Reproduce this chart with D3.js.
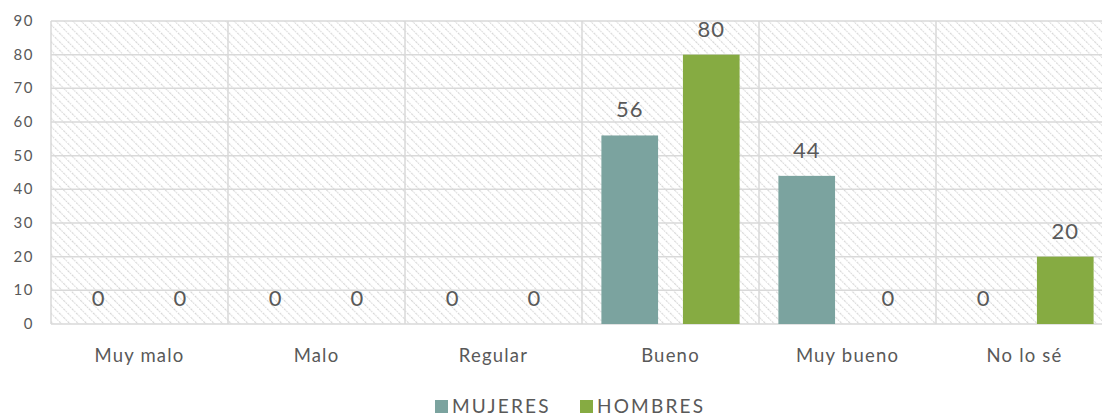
<!DOCTYPE html>
<html lang="es">
<head>
<meta charset="utf-8">
<title>Mujeres / Hombres</title>
<style>
  body { margin: 0; background: #fff; }
  text { font-family: 'Lato', 'Open Sans', sans-serif; font-weight: 400; fill: #595959; }
  .ytick { font-size: 15px; letter-spacing: 1.5px; }
  .xtick { font-size: 18.5px; letter-spacing: 1.2px; }
  .val { font-size: 22px; letter-spacing: 1px; }
  .legend { font-size: 19px; letter-spacing: 2.2px; }
</style>
</head>
<body>
<svg id="chart" width="1102" height="416"></svg>
<script src="https://d3js.org/d3.v7.min.js"></script>
<script>
  const categories = ["Muy malo", "Malo", "Regular", "Bueno", "Muy bueno", "No lo sé"];
  const series = ["MUJERES", "HOMBRES"];
  const mujeres = [0, 0, 0, 56, 44, 0];
  const hombres = [0, 0, 0, 80, 0, 20];
  const yTicks = [0, 10, 20, 30, 40, 50, 60, 70, 80, 90];
  const colors = ["#7ba39f", "#86ab42"];

  const rows = categories.map((c, i) => ({ cat: c, vals: [mujeres[i], hombres[i]] }));

  const plotLeft = 51, plotTop = 21, plotBottom = 324;
  const catStep = 177;
  const plotRight = plotLeft + catStep * categories.length;

  const svg = d3.select("#chart");

  // hatch pattern for plot background
  const defs = svg.append("defs");
  const pat = defs.append("pattern")
    .attr("id", "hatch")
    .attr("patternUnits", "userSpaceOnUse")
    .attr("width", 6).attr("height", 6)
    .attr("patternTransform", "rotate(-45)");
  pat.append("rect").attr("width", 6).attr("height", 6).attr("fill", "#fff");
  pat.append("line")
    .attr("x1", 0).attr("y1", 0).attr("x2", 0).attr("y2", 6)
    .attr("stroke", "#d6d6d6").attr("stroke-width", 2.2)
    .attr("stroke-dasharray", "1.5 1");

  const x0 = d3.scaleBand().domain(categories).range([plotLeft, plotRight]).padding(0);
  const x1 = d3.scaleBand().domain(series).range([0, x0.bandwidth()])
    .paddingInner(0.305).paddingOuter(0.238);
  const y = d3.scaleLinear().domain([0, 90]).range([plotBottom, plotTop]);

  svg.append("rect")
    .attr("x", plotLeft).attr("y", y(90))
    .attr("width", plotRight - plotLeft).attr("height", y(0) - y(90))
    .attr("fill", "url(#hatch)");

  // horizontal gridlines
  svg.append("g").selectAll("line").data(yTicks).join("line")
    .attr("x1", plotLeft).attr("x2", plotRight)
    .attr("y1", d => y(d)).attr("y2", d => y(d))
    .attr("stroke", "#d9d9d9").attr("stroke-width", 1.5);

  // vertical category separators
  svg.append("g").selectAll("line").data(categories.concat(["end"])).join("line")
    .attr("x1", (d, i) => plotLeft + i * x0.step()).attr("x2", (d, i) => plotLeft + i * x0.step())
    .attr("y1", y(90)).attr("y2", y(0))
    .attr("stroke", "#d9d9d9").attr("stroke-width", 1.5);

  // y tick labels
  svg.append("g").selectAll("text").data(yTicks).join("text")
    .attr("class", "ytick")
    .attr("x", 34).attr("y", d => y(d) + 5)
    .attr("text-anchor", "end")
    .text(d => d);

  // bars
  const groups = svg.append("g").selectAll("g").data(rows).join("g")
    .attr("transform", d => `translate(${x0(d.cat)},0)`);

  groups.selectAll("rect").data(d => d.vals.map((v, i) => ({ s: series[i], v, i }))).join("rect")
    .attr("x", d => x1(d.s))
    .attr("y", d => y(d.v))
    .attr("width", x1.bandwidth())
    .attr("height", d => y(0) - y(d.v))
    .attr("fill", d => colors[d.i]);

  groups.selectAll("text").data(d => d.vals.map((v, i) => ({ s: series[i], v, i }))).join("text")
    .attr("class", "val")
    .attr("x", d => x1(d.s) + x1.bandwidth() / 2)
    .attr("y", d => y(d.v) - 18)
    .attr("text-anchor", "middle")
    .text(d => d.v);

  // x labels
  svg.append("g").selectAll("text").data(categories).join("text")
    .attr("class", "xtick")
    .attr("x", d => x0(d) + x0.bandwidth() / 2)
    .attr("y", 362)
    .attr("text-anchor", "middle")
    .text(d => d);

  // legend
  const legX = [435, 580];
  const leg = svg.append("g").selectAll("g").data(series).join("g")
    .attr("transform", (d, i) => `translate(${legX[i]},399)`);
  leg.append("rect").attr("y", 1).attr("width", 13).attr("height", 13)
    .attr("fill", (d, i) => colors[i]);
  leg.append("text").attr("class", "legend")
    .attr("x", 17).attr("y", 13.5)
    .text(d => d);
</script>
</body>
</html>
